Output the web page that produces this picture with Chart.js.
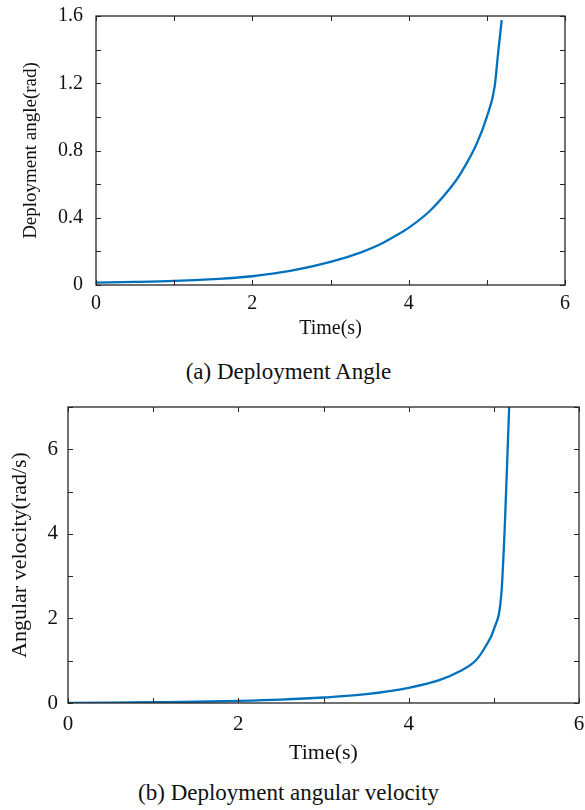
<!DOCTYPE html>
<html>
<head>
<meta charset="utf-8">
<script src="https://cdn.jsdelivr.net/npm/chart.js@4.4.1/dist/chart.umd.min.js"></script>
<style>
  body { margin: 0; background: #fff; overflow: hidden; }
  .wrap { position: absolute; left: 0; width: 585px; }
  .cap { position: absolute; left: -4px; width: 585px; text-align: center; line-height: 26px;
         font-family: "Liberation Serif", serif; font-size: 23px; color: #111; }
</style>
</head>
<body>
<div class="wrap" style="top:0;height:345px"><canvas id="angleChart"></canvas></div>
<div class="cap" style="top:359px">(a) Deployment Angle</div>
<div class="wrap" style="top:385px;height:385px"><canvas id="velChart"></canvas></div>
<div class="cap" style="top:780px">(b) Deployment angular velocity</div>
<script>
// deployment angle (rad) vs time (s)
const angleTime  = [0, 0.5, 1, 1.5, 2, 2.5, 3, 3.4, 3.63, 3.8, 4.0, 4.27, 4.53, 4.66, 4.87, 5.0, 5.1, 5.14, 5.19];
const angleValue = [0.014, 0.018, 0.024, 0.035, 0.052, 0.085, 0.137, 0.196, 0.241, 0.284, 0.34, 0.44, 0.575, 0.66, 0.84, 1.0, 1.18, 1.36, 1.575];

// angular velocity (rad/s) vs time (s)
const velTime  = [0, 0.5, 1, 1.5, 2, 2.5, 3, 3.5, 4.0, 4.36, 4.6, 4.79, 4.9, 5.0, 5.09, 5.13, 5.18];
const velValue = [0.0, 0.01, 0.02, 0.03, 0.05, 0.08, 0.13, 0.21, 0.36, 0.54, 0.75, 1.01, 1.33, 1.74, 2.63, 4.25, 7.0];

const xTicksLabelled = [0, 2, 4, 6];
const angleTicksLabelled = [0, 0.4, 0.8, 1.2, 1.6];
const velTicksLabelled = [0, 2, 4, 6];

const serif = '"Liberation Serif", "Times New Roman", serif';
const inkColor = '#262626';

function pairs(xs, ys) {
  return xs.map((x, i) => ({ x: x, y: ys[i] }));
}

function pickLabel(list, fmt) {
  return function (v) {
    const hit = list.some(t => Math.abs(t - v) < 1e-6);
    return hit ? fmt(v) : '';
  };
}

// matlab style box with inward ticks on all four sides
const boxTicks = {
  id: 'boxTicks',
  afterDraw(chart) {
    const { ctx, chartArea: a, scales } = chart;
    const len = 5;
    ctx.save();
    ctx.strokeStyle = inkColor;
    ctx.lineWidth = 1;
    ctx.beginPath();
    scales.x.ticks.forEach(t => {
      const px = Math.round(scales.x.getPixelForValue(t.value)) + 0.5;
      ctx.moveTo(px, a.bottom); ctx.lineTo(px, a.bottom - len);
      ctx.moveTo(px, a.top); ctx.lineTo(px, a.top + len);
    });
    scales.y.ticks.forEach(t => {
      const py = Math.round(scales.y.getPixelForValue(t.value)) + 0.5;
      ctx.moveTo(a.left, py); ctx.lineTo(a.left + len, py);
      ctx.moveTo(a.right, py); ctx.lineTo(a.right - len, py);
    });
    ctx.stroke();
    ctx.lineWidth = 1.3;
    ctx.strokeRect(a.left, a.top, a.right - a.left, a.bottom - a.top);
    ctx.restore();
  }
};

function makeChart(id, cfg) {
  return new Chart(document.getElementById(id), {
    type: 'line',
    data: {
      datasets: [{
        data: pairs(cfg.xs, cfg.ys),
        borderColor: '#0072BD',
        borderWidth: 2.3,
        pointRadius: 0,
        cubicInterpolationMode: 'monotone',
        fill: false
      }]
    },
    options: {
      responsive: true,
      maintainAspectRatio: false,
      animation: false,
      layout: { padding: cfg.pad },
      plugins: { legend: { display: false }, tooltip: { enabled: false } },
      scales: {
        x: {
          type: 'linear',
          min: 0, max: 6,
          grid: { display: false, drawTicks: false },
          border: { display: false },
          ticks: {
            stepSize: 1, autoSkip: false, maxRotation: 0,
            padding: cfg.xTickPad,
            color: '#111',
            font: { family: serif, size: cfg.tickSize },
            callback: pickLabel(xTicksLabelled, v => String(v))
          },
          title: {
            display: true, text: 'Time(s)', color: '#111',
            font: { family: serif, size: cfg.xTitleSize },
            padding: { top: 0, bottom: cfg.xTitlePad }
          },
          afterFit(s) {
            s.height = cfg.xHeight;
            s.paddingLeft = 0;
            s.paddingRight = 0;
          }
        },
        y: {
          min: cfg.yMin, max: cfg.yMax,
          grid: { display: false, drawTicks: false },
          border: { display: false },
          ticks: {
            stepSize: cfg.yStep, autoSkip: false,
            padding: cfg.yTickPad,
            color: '#111',
            font: { family: serif, size: cfg.tickSize },
            callback: pickLabel(cfg.yLabels, cfg.yFmt)
          },
          title: {
            display: true, text: cfg.yTitle, color: '#111',
            font: { family: serif, size: cfg.yTitleSize },
            padding: { top: cfg.yTitlePad, bottom: 0 }
          },
          afterFit(s) {
            s.width = cfg.yWidth;
            s.paddingTop = 0;
            s.paddingBottom = 0;
          }
        }
      }
    },
    plugins: [boxTicks]
  });
}

makeChart('angleChart', {
  xs: angleTime, ys: angleValue,
  pad: { top: 16, right: 20, left: 0, bottom: 0 },
  yMin: 0, yMax: 1.6, yStep: 0.2,
  yLabels: angleTicksLabelled,
  yFmt: v => (v === 0 ? '0' : v.toFixed(1)),
  yTitle: 'Deployment angle(rad)',
  tickSize: 20, xTitleSize: 20, yTitleSize: 19,
  xTickPad: 7, xTitlePad: 4, xHeight: 60,
  yTickPad: 13, yTitlePad: 20, yWidth: 96
});

makeChart('velChart', {
  xs: velTime, ys: velValue,
  pad: { top: 22, right: 6, left: 0, bottom: 0 },
  yMin: 0, yMax: 7, yStep: 1,
  yLabels: velTicksLabelled,
  yFmt: v => String(v),
  yTitle: 'Angular velocity(rad/s)',
  tickSize: 21, xTitleSize: 22, yTitleSize: 22,
  xTickPad: 9, xTitlePad: 4, xHeight: 67,
  yTickPad: 10, yTitlePad: 7, yWidth: 68
});
</script>
</body>
</html>
